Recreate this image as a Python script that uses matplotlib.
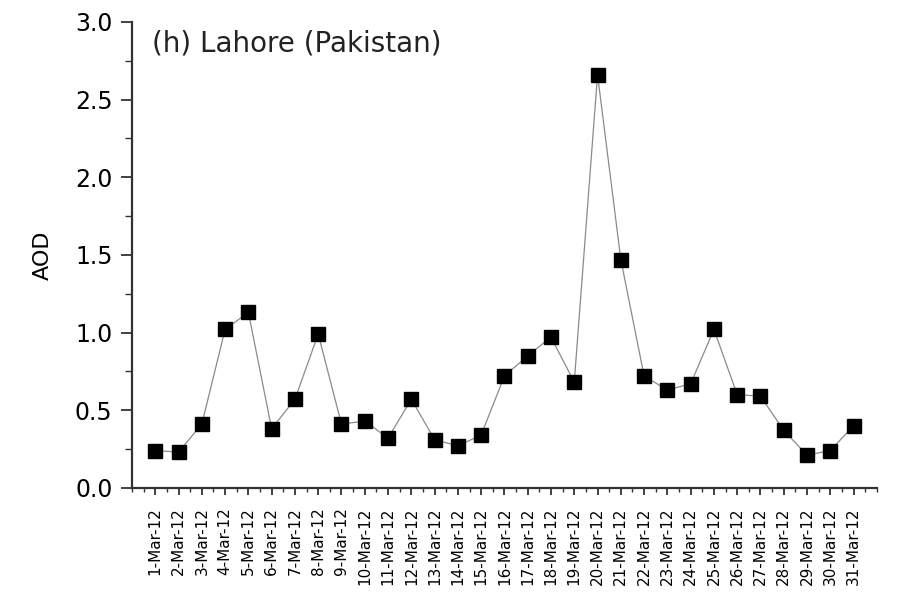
import matplotlib
matplotlib.use("Agg")
import matplotlib.pyplot as plt
from matplotlib.ticker import MultipleLocator

# daily AOD values, March 2012
days = list(range(1, 32))
day_labels = [str(d) + "-Mar-12" for d in days]
aod = [0.24, 0.23, 0.41, 1.02, 1.13, 0.38, 0.57, 0.99, 0.41, 0.43,
       0.32, 0.57, 0.31, 0.27, 0.34, 0.72, 0.85, 0.97, 0.68, 2.66,
       1.47, 0.72, 0.63, 0.67, 1.02, 0.60, 0.59, 0.37, 0.21, 0.24, 0.40]

plt.rcParams['font.family'] = ['DejaVu Sans']

fig = plt.figure(figsize=(9.04, 5.92), dpi=100)
ax = fig.add_axes([0.146, 0.176, 0.824, 0.787])

ax.plot(days, aod, color='#8a8a8a', linewidth=0.9, zorder=1)
ax.plot(days, aod, linestyle='none', marker='s', markersize=9.5,
        markerfacecolor='black', markeredgecolor='black', zorder=2)

ax.set_xlim(0, 32)
ax.set_ylim(0, 3.0)

ax.set_xticks(days)
ax.set_xticklabels(day_labels, rotation=90, fontsize=11)
ax.xaxis.set_minor_locator(MultipleLocator(0.5))
ax.yaxis.set_major_locator(MultipleLocator(0.5))
ax.yaxis.set_minor_locator(MultipleLocator(0.25))
ax.set_yticklabels(['%.1f' % v for v in ax.get_yticks()], fontsize=17)

ax.tick_params(axis='x', which='major', length=5, width=1.3, pad=9, color='#333333')
ax.tick_params(axis='x', which='minor', length=3, width=1.0, color='#333333')
ax.tick_params(axis='y', which='major', length=8, width=1.3, pad=6, color='#333333')
ax.tick_params(axis='y', which='minor', length=5, width=1.0, color='#333333')

for s in ['top', 'right']:
    ax.spines[s].set_visible(False)
for s in ['left', 'bottom']:
    ax.spines[s].set_linewidth(1.6)
    ax.spines[s].set_color('#333333')

ax.set_ylabel('AOD', fontsize=16, labelpad=16)
ax.text(0.027, 0.983, '(h) Lahore (Pakistan)', transform=ax.transAxes,
        fontsize=20, ha='left', va='top', color='#222222')

fig.savefig('out.png', dpi=100)
